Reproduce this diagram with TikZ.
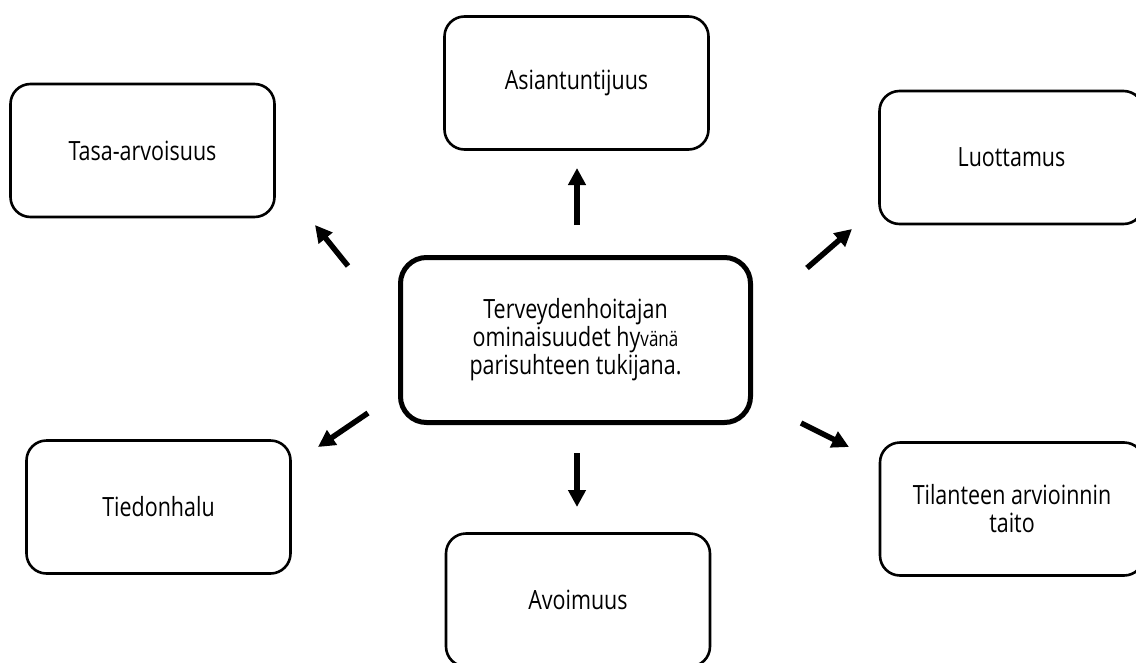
\documentclass[tikz,border=0pt]{standalone}
\usepackage{fontspec}
\setmainfont{Open Sans}[FakeStretch=0.81]
\usetikzlibrary{arrows.meta}
\begin{document}
\begin{tikzpicture}[x=1pt,y=-1pt,
  topic/.style={draw=black, line width=2.6pt, rounded corners=20pt,
    minimum width=264pt, minimum height=133pt, align=center,
    font=\fontsize{26.5}{28}\selectfont, inner sep=0pt},
  core/.style={draw=black, line width=5pt, rounded corners=26pt,
    minimum width=350pt, minimum height=165pt, align=center,
    font=\fontsize{26.5}{28}\selectfont, inner sep=0pt},
  pointer/.style={line width=5.5pt, -{Triangle[length=17pt,width=17pt]}}]
\useasboundingbox (0,0) rectangle (1136,662);
\clip (0,0) rectangle (1136,662);
\fill[white] (0,0) rectangle (1136,662);

% central box
\node[core] (core) at (575.5,340) {Terveydenhoitajan\\ominaisuudet hy{\fontsize{21}{28}\selectfont vänä}\\parisuhteen tukijana.};

% surrounding qualities
\node[topic] (tasa)  at (142.5,150.5) {Tasa-arvoisuus};
\node[topic] (asia)  at (576.5,83)    {Asiantuntijuus};
\node[topic] (luott) at (1011.5,157.5){Luottamus};
\node[topic] (tieto) at (158.5,507)   {Tiedonhalu};
\node[topic] (avoin) at (578,600)     {Avoimuus};
\node[topic] (tilan) at (1012,509)    {Tilanteen arvioinnin\\taito};

% arrow end points
\coordinate (a1s) at (348,266); \coordinate (a1e) at (315,225);
\coordinate (a2s) at (577,225); \coordinate (a2e) at (577,168);
\coordinate (a3s) at (807,268); \coordinate (a3e) at (852,229);
\coordinate (a4s) at (368,413); \coordinate (a4e) at (318,447);
\coordinate (a5s) at (577,453); \coordinate (a5e) at (577,507);
\coordinate (a6s) at (801,423); \coordinate (a6e) at (849,447);

\draw[pointer] (a1s) -- (a1e);
\draw[pointer] (a2s) -- (a2e);
\draw[pointer] (a3s) -- (a3e);
\draw[pointer] (a4s) -- (a4e);
\draw[pointer] (a5s) -- (a5e);
\draw[pointer] (a6s) -- (a6e);
\end{tikzpicture}
\end{document}
